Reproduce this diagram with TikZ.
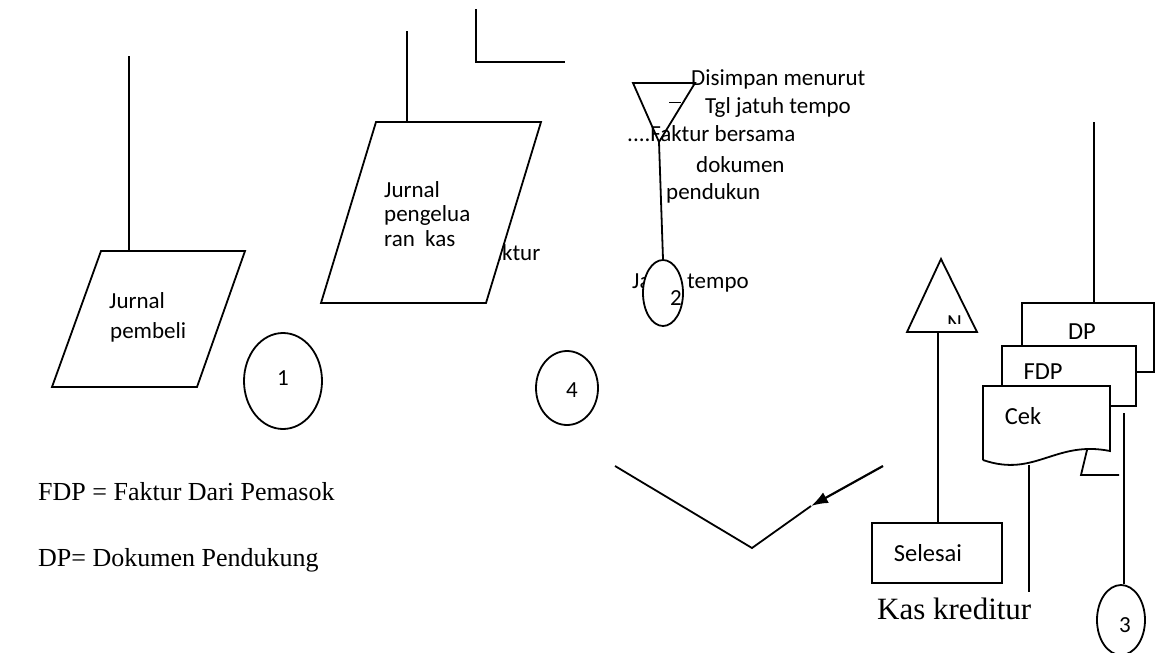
\documentclass[tikz,border=0pt]{standalone}
\usepackage{fontspec}
\setmainfont{Carlito}
\newfontfamily\seriffont{Liberation Serif}
\usetikzlibrary{shapes.geometric,arrows.meta}
\begin{document}
\begin{tikzpicture}[x=1pt,y=-1pt,
  flow/.style={line width=1.8pt, line join=miter},
  lbl/.style={inner sep=0pt, anchor=base west, font=\fontsize{23}{26}\selectfont},
  clbl/.style={inner sep=0pt, font=\fontsize{23}{26}\selectfont},
  dlbl/.style={inner sep=0pt, font=\fontsize{24.5}{28}\selectfont},
  serif/.style={inner sep=0pt, anchor=base west, font=\seriffont\fontsize{26}{30}\selectfont},
  conn/.style={ellipse, draw, line width=1.8pt, fill=white, inner sep=0pt}]
\useasboundingbox (0,0) rectangle (1157,653);

% ---------- Jurnal pembeli ----------
\coordinate (jp1) at (101,251); \coordinate (jp2) at (245,251);
\coordinate (jp3) at (197,387); \coordinate (jp4) at (52,387);
\coordinate (jpin) at (129,251); \coordinate (jptop) at (129,56);
\draw[flow] (jp1) -- (jp2) -- (jp3) -- (jp4) -- cycle;
\draw[flow] (jptop) -- (jpin);
\node[lbl] (jpa) at (109,308) {Jurnal};
\node[lbl] (jpb) at (110,338) {pembeli};

% ---------- connector 1 ----------
\node[conn, minimum width=78pt, minimum height=96pt] (c1) at (283,381) {};
\node[clbl] (c1t) at (283,378) {1};

% ---------- Jurnal pengeluaran kas ----------
\node[lbl] (fk) at (481,260) {Faktur};
\coordinate (jk1) at (376,122); \coordinate (jk2) at (541,122);
\coordinate (jk3) at (486,303); \coordinate (jk4) at (321,303);
\coordinate (jkin) at (407,122); \coordinate (jktop) at (407,31);
\filldraw[flow, fill=white] (jk1) -- (jk2) -- (jk3) -- (jk4) -- cycle;
\draw[flow] (jktop) -- (jkin);
\node[lbl] (jka) at (384,197) {Jurnal};
\node[lbl] (jkb) at (384,221) {pengelua};
\node[lbl] (jkc) at (384,246) {ran\ \ kas};

% ---------- elbow at the top ----------
\coordinate (e1) at (476,9); \coordinate (e2) at (476,62); \coordinate (e3) at (565,62);
\draw[flow] (e1) -- (e2) -- (e3);

% ---------- file by due date ----------
\node[lbl] (d1) at (691,85) {Disimpan menurut};
\node[lbl] (d2) at (705,113) {Tgl jatuh tempo};
\node[lbl] (d3) at (627,141) {....Faktur bersama};
\node[lbl] (d4) at (696,172) {dokumen};
\node[lbl] (d5) at (666,199) {pendukun};
\coordinate (t1) at (633,83); \coordinate (t2) at (695,83); \coordinate (tap) at (659,142);
\draw[flow] (t1) -- (t2) -- (tap) -- cycle;
\coordinate (tm1) at (669,102); \coordinate (tm2) at (681,102);
\draw[line width=0.8pt] (tm1) -- (tm2);

% due-date label, partly behind connector 2
\node[lbl] (jta) at (632,288) {Ja};
\node[lbl] (jtb) at (687,288) {tempo};
\node[conn, minimum width=40pt, minimum height=66pt] (c2) at (663,293) {};
\node[clbl] (c2t) at (676,298) {2};
\draw[flow] (tap) -- (c2.north);

% ---------- connector 4 ----------
\node[conn, minimum width=62pt, minimum height=74pt] (c4) at (567,388) {};
\node[clbl] (c4t) at (572,390) {4};

% ---------- legend ----------
\node[serif] (lg1) at (38,500) {FDP = Faktur Dari Pemasok};
\node[serif] (lg2) at (38,566) {DP= Dokumen Pendukung};

% ---------- merging lines ----------
\coordinate (v1) at (615,466); \coordinate (v2) at (752,548);
\coordinate (v3) at (883,466); \coordinate (va) at (811,506);
\draw[flow] (v1) -- (v2) -- (va);
\draw[line width=2.2pt, -{Latex[length=17pt,width=12pt]}] (v3) -- (va);

% ---------- end ----------
\coordinate (n1) at (941,259); \coordinate (n2) at (977,332); \coordinate (n3) at (907,332);
\begin{scope}
  \clip (900,300) rectangle (990,323);
  \node[lbl] (nt) at (947,330) {N};
\end{scope}
\draw[flow] (n1) -- (n2) -- (n3) -- cycle;
\node[draw, line width=1.8pt, minimum width=130pt, minimum height=60pt, inner sep=0pt] (sel) at (937,553) {};
\node[dlbl] (selt) at (928,553) {Selesai};
\coordinate (nout) at (938,332);
\draw[flow] (nout) -- (nout |- sel.north);
\node[serif, font=\seriffont\fontsize{31}{35}\selectfont] (kk) at (877,619) {Kas kreditur};

% ---------- documents ----------
\coordinate (dpin) at (1094,122);
\coordinate (dpt) at (1094,303);
\draw[flow] (dpin) -- (dpt);
\draw[flow] (1022,346) -- (1022,303) -- (1154,303) -- (1154,372) -- (1136,372);
\node[dlbl] (dpl) at (1082,332) {DP};
\filldraw[flow, fill=white] (1002,386) -- (1002,346) -- (1136,346) -- (1136,406) -- (1110,406);
\node[dlbl] (fdpl) at (1043,372) {FDP};
\coordinate (ck1) at (983,386); \coordinate (ck2) at (1110,386);
\coordinate (ck3) at (1110,451); \coordinate (ck4) at (983,460);
\filldraw[flow, fill=white] (ck4) -- (ck1) -- (ck2) -- (ck3)
  .. controls (1055,440) and (1035,478) .. (ck4);
\node[dlbl] (ckl) at (1023,416) {Cek};
\coordinate (w1) at (1087,450); \coordinate (w2) at (1081,475); \coordinate (w3) at (1119,475);
\draw[flow] (w1) -- (w2) -- (w3);
\coordinate (ckout) at (1029,465); \coordinate (ckend) at (1029,592);
\draw[flow] (ckout) -- (ckend);

\node[conn, minimum width=48pt, minimum height=70pt] (c3) at (1121,620) {};
\node[clbl] (c3t) at (1125,625) {3};
\coordinate (c3in) at (1124,413);
\draw[flow] (c3in) -- (c3in |- c3.north);
\end{tikzpicture}
\end{document}
